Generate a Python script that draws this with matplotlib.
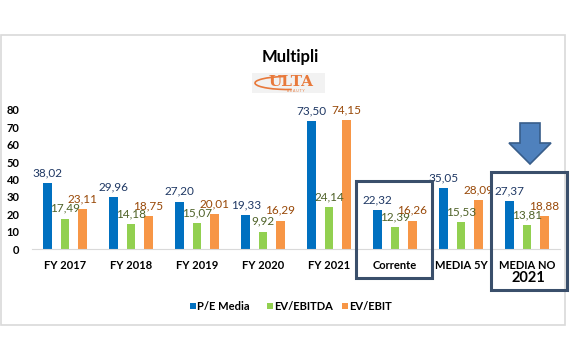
import matplotlib
matplotlib.use("Agg")
import matplotlib.pyplot as plt
from matplotlib.patches import Rectangle, Arc, Polygon
import numpy as np

categories = ["FY 2017", "FY 2018", "FY 2019", "FY 2020", "FY 2021", "Corrente", "MEDIA 5Y", "MEDIA NO"]
pe_media = [38.02, 29.96, 27.20, 19.33, 73.50, 22.32, 35.05, 27.37]
ev_ebitda = [17.49, 14.18, 15.07, 9.92, 24.14, 12.39, 15.53, 13.81]
ev_ebit = [23.11, 18.75, 20.01, 16.29, 74.15, 16.26, 28.09, 18.88]
series_names = ["P/E Media", "EV/EBITDA", "EV/EBIT"]
yticks = [0, 10, 20, 30, 40, 50, 60, 70, 80]

bar_colors = ["#0070C0", "#92D050", "#F79646"]
label_colors = ["#1F3864", "#4F6228", "#984807"]

W, H = 575, 360
fig = plt.figure(figsize=(W / 100, H / 100), dpi=100)
plt.rcParams['font.family'] = ['Lato', 'DejaVu Sans']

def fx(px):
    return px / W

def fy(py):
    return 1 - py / H

# outer frame
fig.patches.append(Rectangle((fx(1), fy(325)), fx(564), (325 - 35) / H, transform=fig.transFigure,
                             fill=False, edgecolor="#D9D9D9", linewidth=1.2))

ax = fig.add_axes([fx(32), fy(249), fx(528), (249 - 110) / H])
x = np.arange(len(categories))
off = 0.26
bw = 0.135
for i, (vals, c, lc) in enumerate(zip([pe_media, ev_ebitda, ev_ebit], bar_colors, label_colors)):
    xs = x + (i - 1) * off
    ax.bar(xs, vals, width=bw, color=c, zorder=2)
    for xx, v in zip(xs, vals):
        ax.annotate(f"{v:.2f}".replace(".", ","), (xx, v), xytext=(0, 3.5), textcoords="offset points",
                    ha="center", va="bottom", fontsize=8.5, color=lc)

ax.set_xlim(-0.5, len(categories) - 0.5)
ax.set_ylim(0, 80)
ax.set_yticks(yticks)
ax.set_yticklabels([str(t) for t in yticks], fontsize=8, fontweight="bold")
ax.set_xticks(x)
ax.set_xticklabels(categories, fontsize=8, fontweight="bold")
ax.tick_params(axis="y", length=0, pad=9)
ax.tick_params(axis="x", length=0, pad=8)
for s in ["top", "right", "left"]:
    ax.spines[s].set_visible(False)
ax.spines["bottom"].set_color("#D9D9D9")
ax.patch.set_alpha(0)

# second line of last category
fig.text(fx(528), fy(278), "2021", ha="center", va="center", fontsize=10.5, fontweight="bold")

# title
fig.text(fx(290), fy(57), "Multipli", ha="center", va="center", fontsize=12, fontweight="bold")

# logo
fig.patches.append(Rectangle((fx(252), fy(93)), fx(73), 20 / H, transform=fig.transFigure,
                             facecolor="#F2F2F2", edgecolor="none"))
fig.text(fx(291), fy(81.5), "ULTA", ha="center", va="center", fontsize=11, fontweight="bold",
         color="#E8793B", family="DejaVu Serif")
fig.text(fx(296), fy(90.5), "B E A U T Y", ha="center", va="center", fontsize=2.5, color="#E8793B")
fig.patches.append(Arc((fx(288), fy(83)), fx(66), 13 / H, theta1=110, theta2=290,
                       transform=fig.transFigure, edgecolor="#E8793B", linewidth=1.2))

# highlight boxes
fig.patches.append(Rectangle((fx(356), fy(278)), fx(76), (278 - 181) / H, transform=fig.transFigure,
                             fill=False, edgecolor="#3A4F6B", linewidth=2.2))
fig.patches.append(Rectangle((fx(491), fy(290)), fx(76), (290 - 172) / H, transform=fig.transFigure,
                             fill=False, edgecolor="#3A4F6B", linewidth=2.2))

# arrow
arrow_pts = [(520, 123), (540, 123), (540, 143), (551, 143), (530, 164), (509, 143), (520, 143)]
fig.patches.append(Polygon([(fx(a), fy(b)) for a, b in arrow_pts], closed=True, transform=fig.transFigure,
                           facecolor="#4F81BD", edgecolor="#385D8A", linewidth=1.2))

# legend
leg_x = [190, 267, 342]
for lx, name, c in zip(leg_x, series_names, bar_colors):
    fig.patches.append(Rectangle((fx(lx), fy(309)), fx(6), 6 / H, transform=fig.transFigure,
                                 facecolor=c, edgecolor="none"))
    fig.text(fx(lx + 7), fy(306), name, ha="left", va="center", fontsize=8, fontweight="bold")

fig.savefig("out.png", dpi=100)
